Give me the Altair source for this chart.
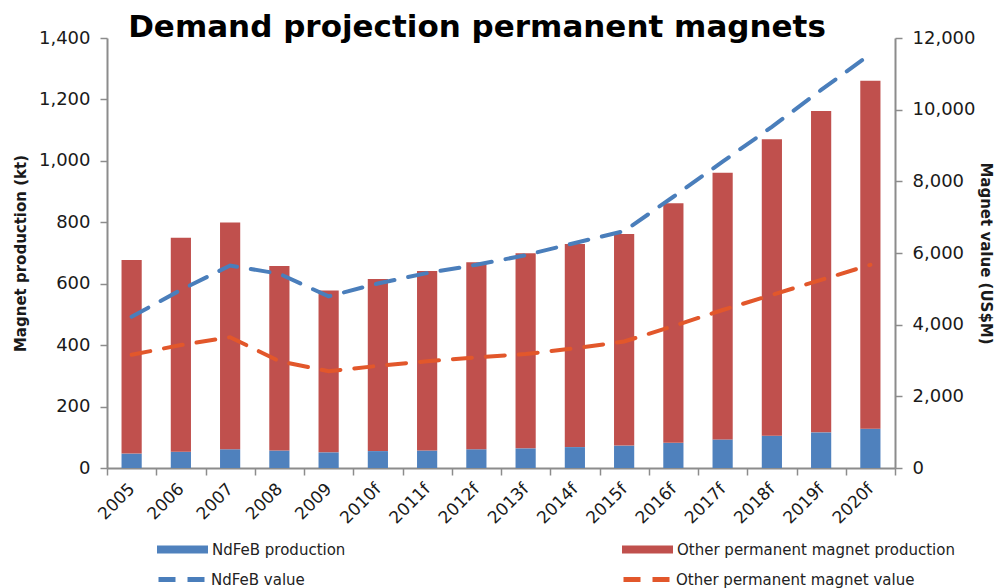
import altair as alt
import pandas as pd

title_text = "Demand projection permanent magnets"
years = ["2005", "2006", "2007", "2008", "2009", "2010f", "2011f", "2012f",
         "2013f", "2014f", "2015f", "2016f", "2017f", "2018f", "2019f", "2020f"]
total_production = [677, 750, 799, 658, 578, 615, 641, 670,
                    699, 729, 762, 862, 961, 1070, 1162, 1261]
ndfeb_production = [47, 53, 61, 57, 51, 55, 57, 61,
                    64, 68, 73, 82, 93, 105, 116, 128]
ndfeb_value = [4220, 4970, 5650, 5420, 4790, 5150, 5440, 5670,
               5940, 6280, 6610, 7570, 8550, 9520, 10550, 11550]
other_value = [3160, 3430, 3650, 2980, 2700, 2850, 2980, 3090,
               3180, 3340, 3530, 3960, 4410, 4830, 5250, 5670]

series_names = ["NdFeB production", "Other permanent magnet production",
                "NdFeB value", "Other permanent magnet value"]
series_colors = ["#4F81BD", "#C0504D", "#4A7EBB", "#E2572B"]

df = pd.DataFrame({
    "year": years,
    "total": total_production,
    "ndfeb": ndfeb_production,
    "ndfeb_value": ndfeb_value,
    "other_value": other_value,
})
for i, name in enumerate(series_names):
    df[f"s{i}"] = name

W, H = 788, 430
FONT = "DejaVu Sans"
AX_GRAY = "#8c8c8c"
TXT = "#1a1a1a"

x_enc = alt.X(
    "year:N", sort=years, title=None,
    scale=alt.Scale(paddingInner=0, paddingOuter=0),
    axis=alt.Axis(labelAngle=-45, labelFont=FONT, labelFontSize=17, labelColor=TXT,
                  labelAlign="right", labelBaseline="middle", labelPadding=11,
                  tickBand="extent", tickSize=7, tickWidth=1.5, tickColor=AX_GRAY,
                  domainColor=AX_GRAY, domainWidth=2, grid=False),
)

BAR_PATH = "M-1,-0.16H1V0.16H-1Z"


def legend(x, y, kind):
    common = dict(orient="none", legendX=x, legendY=y, title=None, padding=0,
                  labelFont=FONT, labelFontSize=15, labelColor="#222222",
                  labelOffset=4, labelLimit=500)
    if kind == "bar":
        return alt.Legend(symbolType=BAR_PATH, symbolSize=2601, symbolStrokeWidth=0,
                          **common)
    return alt.Legend(symbolType="stroke", symbolSize=2116, symbolStrokeWidth=5,
                      symbolDash=[17, 12], **common)


def color(i, kind, lx, ly):
    return alt.Color(f"s{i}:N",
                     scale=alt.Scale(domain=[series_names[i]], range=[series_colors[i]]),
                     legend=legend(lx, ly, kind))


left_axis = alt.Axis(title="Magnet production (kt)", format=",d", values=list(range(0, 1401, 200)),
                     labelFont=FONT, labelFontSize=18, labelColor=TXT, labelPadding=10,
                     tickSize=7, tickWidth=1.5, tickColor=AX_GRAY, domainColor=AX_GRAY,
                     domainWidth=2, grid=False, titleFont=FONT, titleFontSize=15,
                     titleFontWeight="bold", titleColor=TXT, titlePadding=10)
right_axis = alt.Axis(title="Magnet value (US$M)", orient="right", format=",d",
                      values=list(range(0, 12001, 2000)),
                      labelFont=FONT, labelFontSize=18, labelColor=TXT, labelPadding=10,
                      tickSize=7, tickWidth=1.5, tickColor=AX_GRAY, domainColor=AX_GRAY,
                      domainWidth=2, grid=False, titleFont=FONT, titleFontSize=15,
                      titleFontWeight="bold", titleColor=TXT, titlePadding=3)

base = alt.Chart(df)

bar_nd = base.mark_bar(width=alt.RelativeBandSize(0.41)).encode(
    x=x_enc,
    y=alt.Y("ndfeb:Q", scale=alt.Scale(domain=[0, 1400], nice=False), axis=left_axis),
    color=color(0, "bar", 50, 486),
)
bar_other = base.mark_bar(width=alt.RelativeBandSize(0.41)).encode(
    x=x_enc,
    y=alt.Y("total:Q", scale=alt.Scale(domain=[0, 1400], nice=False), axis=None),
    y2="ndfeb:Q",
    color=color(1, "bar", 515, 486),
)
line_nd = base.mark_line(strokeDash=[19, 14], strokeWidth=4, strokeCap="round").encode(
    x=x_enc,
    y=alt.Y("ndfeb_value:Q", scale=alt.Scale(domain=[0, 12000], nice=False), axis=right_axis),
    color=color(2, "line", 49, 516),
)
line_other = base.mark_line(strokeDash=[19, 14], strokeWidth=4, strokeCap="round").encode(
    x=x_enc,
    y=alt.Y("other_value:Q", scale=alt.Scale(domain=[0, 12000], nice=False), axis=None),
    color=color(3, "line", 514, 516),
)
title_layer = alt.Chart(pd.DataFrame({"t": [title_text]})).mark_text(
    font=FONT, fontSize=31, fontWeight="bold", color="black",
    align="center", baseline="alphabetic",
).encode(text="t:N", x=alt.value(370), y=alt.value(-1))

chart = alt.layer(bar_nd, bar_other, line_nd, line_other, title_layer).resolve_scale(
    y="independent", color="independent"
).resolve_axis(y="independent").properties(
    width=W, height=H,
    autosize=alt.AutoSizeParams(type="none"),
    padding={"left": 99, "top": 30, "right": 100, "bottom": 120},
    background="white",
).configure_view(stroke=None)

chart.save("out.html", embed_options={"renderer": "svg", "actions": False})
